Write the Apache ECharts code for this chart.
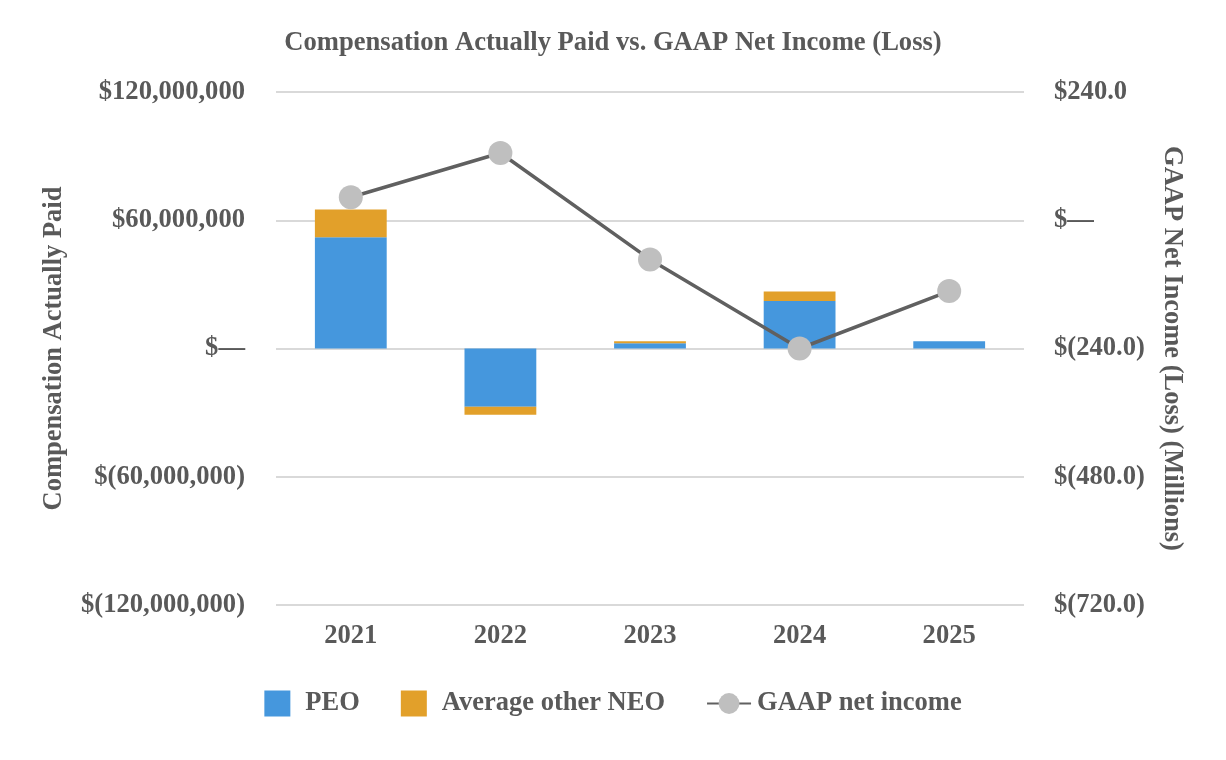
<!DOCTYPE html>
<html><head><meta charset="utf-8">
<script src="https://cdn.jsdelivr.net/npm/echarts@6/dist/echarts.min.js"></script>
<style>html,body{margin:0;padding:0;background:#fff}#c{width:1226px;height:760px}</style>
</head><body><div id="c"></div>
<script>
const categories = ['2021','2022','2023','2024','2025'];
const peo = [52100000, -27200000, 2500000, 22200000, 3400000];
const neo = [12900000, -3800000, 900000, 4500000, 0];
const netIncome = [43.0, 125.8, -73.3, -240.0, -132.5];
const leftTicks = [-120000000, 120000000, 60000000];
const rightTicks = [-720, 240, 240];

const FONT = '"Liberation Serif","Times New Roman",serif';
const TXT = '#595959';
const FS = 26.6;
const SQ = 'path://M0,0h10v10h-10z';
function fmtLeft(v){ if(v===0) return '$\u2014'; const s=Math.abs(v).toLocaleString('en-US'); return v<0?'$('+s+')':'$'+s; }
function fmtRight(v){ if(v===0) return '$\u2014'; const s=Math.abs(v).toFixed(1); return v<0?'$('+s+')':'$'+s; }

const chart = echarts.init(document.getElementById('c'));
chart.setOption({
  backgroundColor:'#fff',
  animation:false,
  title:{text:'Compensation Actually Paid vs. GAAP Net Income (Loss)',left:'center',top:25,
    textStyle:{fontFamily:FONT,fontWeight:'bold',fontSize:FS,color:TXT}},
  grid:{left:276,right:202,top:92,bottom:155,containLabel:false},
  legend:{top:685,left:'center',itemGap:41,itemWidth:44,itemHeight:26,
    textStyle:{fontFamily:FONT,fontWeight:'bold',fontSize:26.5,color:TXT,padding:[0,0,0,1]},
    data:[{name:'PEO',icon:SQ},{name:'Average other NEO',icon:SQ},{name:'GAAP net income'}]},
  xAxis:{type:'category',data:categories,axisLine:{show:false},axisTick:{show:false},
    axisLabel:{fontFamily:FONT,fontWeight:'bold',fontSize:FS,color:TXT,margin:18}},
  yAxis:[
    {type:'value',min:leftTicks[0],max:leftTicks[1],interval:leftTicks[2],
     name:'Compensation Actually Paid',nameLocation:'middle',nameGap:208,nameRotate:90,
     nameTextStyle:{fontFamily:FONT,fontWeight:'bold',fontSize:26.5,color:TXT},
     axisLabel:{formatter:fmtLeft,fontFamily:FONT,fontWeight:'bold',fontSize:FS,color:TXT,margin:31},
     splitLine:{lineStyle:{color:'#d9d9d9',width:2}},axisLine:{show:false},axisTick:{show:false}},
    {type:'value',min:rightTicks[0],max:rightTicks[1],interval:rightTicks[2],position:'right',
     name:'GAAP Net Income (Loss) (Millions)',nameLocation:'middle',nameGap:134,nameRotate:-90,
     nameTextStyle:{fontFamily:FONT,fontWeight:'bold',fontSize:26.5,color:TXT},
     axisLabel:{formatter:fmtRight,fontFamily:FONT,fontWeight:'bold',fontSize:FS,color:TXT,margin:30},
     splitLine:{show:false},axisLine:{show:false},axisTick:{show:false}}
  ],
  series:[
    {name:'PEO',type:'bar',stack:'cap',data:peo,barWidth:'48%',itemStyle:{color:'#4597DD'}},
    {name:'Average other NEO',type:'bar',stack:'cap',data:neo,barWidth:'48%',itemStyle:{color:'#E2A02A'}},
    {name:'GAAP net income',type:'line',yAxisIndex:1,data:netIncome,symbol:'circle',symbolSize:24,
     lineStyle:{color:'#606060',width:3.5},itemStyle:{color:'#BFBFBF'},z:5}
  ]
});
</script></body></html>
